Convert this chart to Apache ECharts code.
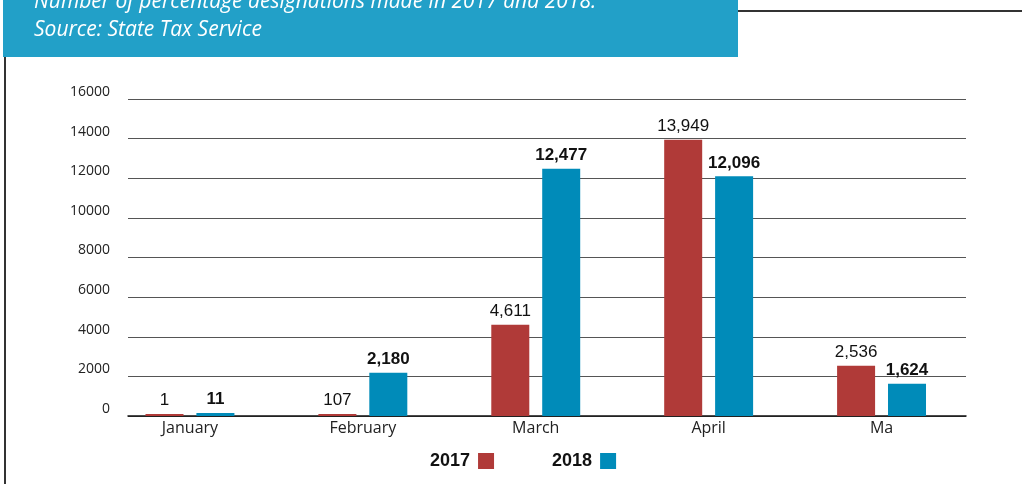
<!DOCTYPE html>
<html>
<head>
<meta charset="utf-8">
<script src="https://cdn.jsdelivr.net/npm/echarts@6/dist/echarts.min.js"></script>
<style>
html,body{margin:0;padding:0;background:#fff;}
#c{width:1022px;height:484px;}
</style>
</head>
<body>
<div id="c"></div>
<script>
const categories = ['January', 'February', 'March', 'April', 'Ma'];
const values2017 = [1, 107, 4611, 13949, 2536];
const values2018 = [11, 2180, 12477, 12096, 1624];
const seriesNames = ['2017', '2018'];
const titleLines = ['Number of percentage designations made in 2017 and 2018.', 'Source: State Tax Service'];

const RED = '#b03a38';
const BLUE = '#008bb9';
const NARROW = '"Liberation Sans", Arial, sans-serif';
const SANS = '"Open Sans", "Noto Sans", sans-serif';

const fmt = v => v.value.toLocaleString('en-US');

const chart = echarts.init(document.getElementById('c'), null, {renderer: 'canvas'});
chart.setOption({
  animation: false,
  backgroundColor: '#fff',
  grid: [
    {left: 103.5, right: 54, top: 99, bottom: 68},
    {left: 128, right: 56, top: 99, bottom: 68}
  ],
  xAxis: [
    {type: 'category', gridIndex: 0, data: categories,
     axisLine: {show: false}, axisTick: {show: false},
     axisLabel: {color: '#222', fontFamily: SANS, fontSize: 16, margin: 4}},
    {type: 'value', gridIndex: 1, min: 0, max: 1,
     axisLine: {show: true, onZero: false, lineStyle: {color: '#111', width: 1.5}},
     axisTick: {show: false}, axisLabel: {show: false}, splitLine: {show: false}}
  ],
  yAxis: [
    {type: 'value', gridIndex: 0, min: 0, max: 16000, interval: 2000, show: false, splitLine: {show: false}},
    {type: 'value', gridIndex: 1, min: 0, max: 16000, interval: 2000,
     axisLine: {show: false}, axisTick: {show: false},
     axisLabel: {color: '#222', fontFamily: SANS, fontSize: 14, margin: 18, verticalAlign: 'bottom',
                 formatter: v => String(v)},
     splitLine: {show: true, lineStyle: {color: '#555', width: 1.2}}}
  ],
  legend: {
    left: 425, top: 447, align: 'right', itemWidth: 16, itemHeight: 16, itemGap: 58,
    icon: 'rect', data: seriesNames,
    textStyle: {fontFamily: NARROW, fontWeight: 'bold', fontSize: 18, color: '#111', padding: [0, 3, 0, 0]}
  },
  series: [
    {name: seriesNames[0], type: 'bar', xAxisIndex: 0, yAxisIndex: 0, data: values2017,
     barWidth: 38, barGap: '34%', barMinHeight: 2, itemStyle: {color: RED},
     label: {show: true, position: 'top', distance: 5, formatter: fmt,
             fontFamily: NARROW, fontSize: 17, fontWeight: 'normal', color: '#111'}},
    {name: seriesNames[1], type: 'bar', xAxisIndex: 0, yAxisIndex: 0, data: values2018,
     barWidth: 38, barGap: '34%', barMinHeight: 3, itemStyle: {color: BLUE},
     label: {show: true, position: 'top', distance: 5, formatter: fmt,
             fontFamily: NARROW, fontSize: 17, fontWeight: 'bold', color: '#111'}}
  ],
  graphic: [
    {type: 'rect', left: 3, top: 0, shape: {width: 735, height: 57}, style: {fill: '#22a0c8'}, z: 10},
    {type: 'line', shape: {x1: 738, y1: 11, x2: 1022, y2: 11}, style: {stroke: '#333', lineWidth: 2}, z: 10},
    {type: 'line', shape: {x1: 5, y1: 57, x2: 5, y2: 484}, style: {stroke: '#333', lineWidth: 2}, z: 10},
    {type: 'text', x: 34, y: 13, z: 11,
     style: {text: titleLines[0], fill: '#fff', font: 'italic 21px "Open Sans", "Noto Sans", sans-serif', textVerticalAlign: 'bottom'}},
    {type: 'text', x: 34, y: 41, z: 11,
     style: {text: titleLines[1], fill: '#fff', font: 'italic 21px "Open Sans", "Noto Sans", sans-serif', textVerticalAlign: 'bottom'}}
  ]
});
</script>
</body>
</html>
